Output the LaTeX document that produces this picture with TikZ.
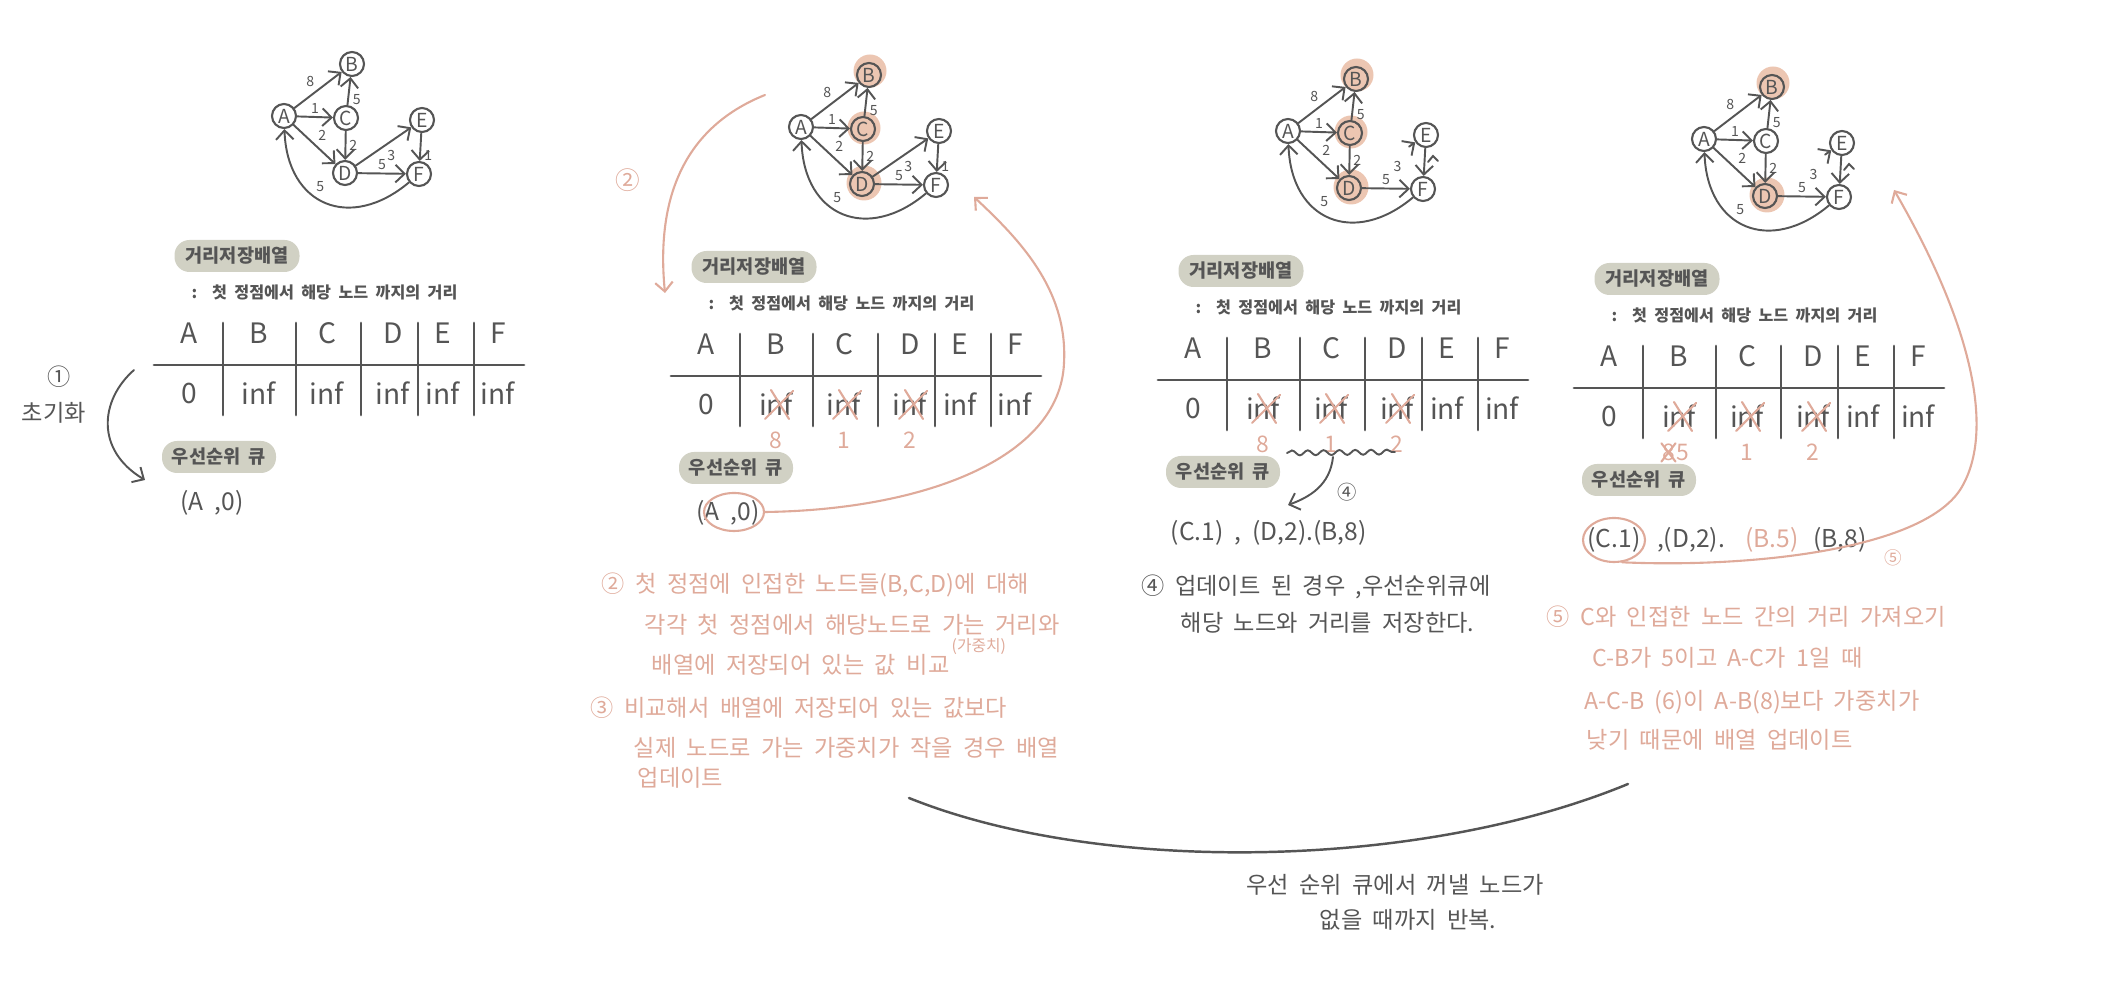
\documentclass[tikz,border=0pt]{standalone}
\usepackage{fontspec}
\setmainfont{Noto Sans CJK KR}[WordSpace=2]
\usetikzlibrary{arrows.meta,positioning,calc,shapes.geometric,decorations.pathmorphing}
\definecolor{ink}{HTML}{555555}
\definecolor{blush}{HTML}{DFAA9A}
\definecolor{peach}{HTML}{ECC6B2}
\definecolor{sage}{HTML}{D1D1C4}

\begin{document}
\begin{tikzpicture}[>={Straight Barb[length=2.6pt,width=5pt]},auto,line cap=round,
    main node/.style={circle,draw=ink,line width=0.6pt,minimum size=0.24cm,inner sep=0pt,text=ink,font=\fontsize{5.5}{6}\selectfont},
    weight/.style={text=ink,inner sep=0.8pt,font=\fontsize{4}{4}\selectfont},
    link/.style={draw=ink,line width=0.55pt,->},
    pill/.style={fill=sage,rounded corners=0.15cm,text=ink,inner sep=0pt,minimum height=0.32cm,font=\fontsize{5.3}{6}\selectfont\bfseries},
    cell/.style={text=ink,font=\fontsize{8}{9}\selectfont},
    rule/.style={draw=ink,line width=0.8pt},
    hint/.style={text=ink,anchor=west,inner sep=0pt,font=\fontsize{4.6}{5}\selectfont\bfseries},
    queue/.style={text=ink,inner sep=0pt,font=\fontsize{7}{8}\selectfont},
    red num/.style={text=blush,inner sep=0pt,font=\fontsize{6.5}{7}\selectfont},
    red note/.style={text=blush,anchor=west,inner sep=0pt,font=\fontsize{6.6}{7}\selectfont},
    grey note/.style={text=ink,anchor=west,inner sep=0pt,font=\fontsize{6.6}{7}\selectfont},
    red line/.style={draw=blush,line width=0.6pt},
    ring/.style={ellipse,draw=blush,line width=0.6pt,inner sep=0pt}]
\useasboundingbox (0,0) rectangle (21.01,-10);

\foreach \p/\ox/\oy in {1/1.54/-3.65,2/6.71/-3.76,3/11.58/-3.80,4/15.74/-3.88}{
  \begin{scope}[shift={(\ox,\oy)}]
    \ifnum\p>1
      \fill[peach] (1.99,3.05) circle (0.165) (1.93,1.93) circle (0.175);
      \ifnum\p<4 \fill[peach] (1.93,2.48) circle (0.165); \fi
    \fi
    \node[main node] (A\p) at (1.30,2.49) {A};
    \node[main node] (B\p) at (1.98,3.01) {B};
    \node[main node] (C\p) at (1.92,2.47) {C};
    \node[main node] (E\p) at (2.68,2.45) {E};
    \node[main node] (D\p) at (1.91,1.92) {D};
    \node[main node] (F\p) at (2.65,1.91) {F};
    \path[every edge/.style={link},every node/.style={weight}]
      (A\p) edge node {8} (B\p)
      (A\p) edge node {1} (C\p)
      (C\p) edge node[swap] {5} (B\p)
      (A\p) edge node {2} (D\p)
      (C\p) edge node {2} (D\p)
      (D\p) edge node {5} (F\p)
      (F\p) edge[out=220,in=-88,looseness=1.45] node[swap,pos=0.6] {5} (A\p);
    \ifnum\p<3
      \path[every edge/.style={link},every node/.style={weight}]
        (D\p) edge node[swap] {3} (E\p)
        (E\p) edge node {1} (F\p);
    \else
      \draw[link] ($(D\p)!0.78!(E\p)$) -- (E\p);
      \node[weight] at ($(D\p)!0.5!(E\p)+(0.1,-0.05)$) {3};
      \draw[link] (E\p) -- (F\p);
      \draw[draw=ink,line width=0.55pt] ($(E\p)+(0.02,-0.27)$) -- ++(0.05,0.06) -- ++(0.05,-0.05);
    \fi

    \draw[rule] (0,0) -- (3.70,0);
    \foreach \vx in {0.69,1.42,2.07,2.64,3.20}
      \draw[rule] (\vx,0.42) -- (\vx,-0.50);
    \foreach \col/\cx/\val in {A/0.35/0,B/1.05/inf,C/1.73/inf,D/2.39/inf,E/2.89/inf,F/3.44/inf}{
      \node[cell] (h\col\p) at (\cx,0.32) {\col};
      \node[cell] (v\col\p) at (\cx,-0.28) {\val};
    }
    \node[pill,minimum width=1.25cm] (dist\p) at (0.83,1.09) {거리저장배열};
    \node[hint] (sub\p) at (0.37,0.73) {:\ \ 첫 정점에서 해당 노드 까지의 거리};
    \node[pill,minimum width=1.14cm] (pq\p) at (0.65,-0.92) {우선순위 큐};
  \end{scope}
}

\foreach \p in {2,3,4}
  \foreach \col in {B,C,D}
    \draw[red line] ([shift={(-0.11,-0.15)}]v\col\p.center) -- ([shift={(0.17,0.13)}]v\col\p.center)
                    ([shift={(-0.05,0.14)}]v\col\p.center) -- ([shift={(0.13,-0.15)}]v\col\p.center);
\foreach \p in {2,3}{
  \node[red num,below=1pt of vB\p] {8};
  \node[red num,below=1pt of vC\p] {1};
  \node[red num,below=1pt of vD\p] {2};
}

\node[queue] (q1) at (2.12,-5.03) {(A ,0)};
\node[grey note,anchor=center] (step1) at (0.59,-3.77) {①};
\node[grey note,anchor=center] (init) at (0.54,-4.13) {초기화};
\coordinate (i1) at (1.34,-3.70);
\coordinate (i2) at (1.45,-4.80);
\draw[link] (i1) .. controls (1.0,-4.0) and (0.95,-4.5) .. (i2);

\node[queue] (q2) at (7.28,-5.13) {(A ,0)};
\node[ring,minimum width=0.6cm,minimum height=0.38cm] (ring2) at (7.34,-5.12) {};
\node[red note,anchor=center,font=\fontsize{7}{8}\selectfont] (two) at (6.28,-1.80) {②};
\coordinate (s2) at (7.65,-0.95);
\coordinate (t2) at (6.65,-2.93);
\draw[red line,->] (s2) .. controls (6.9,-1.25) and (6.55,-1.9) .. (t2);
\coordinate (t2b) at (9.74,-1.97);
\draw[red line,->] (ring2.east) .. controls (9.2,-5.1) and (10.6,-4.6) .. (10.64,-3.63)
                   .. controls (10.68,-2.9) and (10.2,-2.4) .. (t2b);
\node[red note] at (6.01,-5.85) {② 첫 정점에 인접한 노드들(B,C,D)에 대해};
\node[red note] at (6.44,-6.25) {각각 첫 정점에서 해당노드로 가는 거리와};
\node[red note,font=\fontsize{4.5}{5}\selectfont] at (9.51,-6.47) {(가중치)};
\node[red note] at (6.51,-6.65) {배열에 저장되어 있는 값 비교};
\node[red note] at (5.90,-7.08) {③ 비교해서 배열에 저장되어 있는 값보다};
\node[red note] at (6.33,-7.48) {실제 노드로 가는 가중치가 작을 경우 배열};
\node[red note] at (6.37,-7.78) {업데이트};

\coordinate (w1) at (12.87,-4.53);
\coordinate (w2) at (13.95,-4.52);
\draw[draw=ink,line width=0.55pt,decorate,decoration={snake,amplitude=0.7pt,segment length=4.5pt}] (w1) -- (w2);
\coordinate (w3) at (13.33,-4.57);
\coordinate (w4) at (12.88,-5.05);
\draw[link] (w3) .. controls (13.3,-4.85) and (13.1,-4.97) .. (w4);
\node[grey note,anchor=center,font=\fontsize{5.5}{6}\selectfont] at (13.47,-4.92) {④};
\node[queue,anchor=west] (q3) at (11.70,-5.33) {(C.1) , (D,2).(B,8)};
\node[grey note] at (11.41,-5.87) {④ 업데이트 된 경우 ,우선순위큐에};
\node[grey note] at (11.80,-6.23) {해당 노드와 거리를 저장한다.};

\node[red num,below=1pt of vB4,xshift=-3pt] (old4) {8};
\draw[red line] (old4.south west) -- (old4.north east) (old4.north west) -- (old4.south east);
\node[red num,right=0pt of old4] {5};
\node[red num,below=1pt of vC4] {1};
\node[red num,below=1pt of vD4] {2};
\node[queue] (q4a) at (16.14,-5.40) {(C.1)};
\node[queue] (q4b) at (16.91,-5.40) {,(D,2).};
\node[queue,text=blush] (q4c) at (17.72,-5.40) {(B.5)};
\node[queue] (q4d) at (18.40,-5.40) {(B,8)};
\node[ring,minimum width=0.62cm,minimum height=0.44cm] (ring4) at (q4a) {};
\coordinate (t4) at (18.94,-1.90);
\draw[red line,->] (ring4.-70) .. controls (17.5,-5.68) and (19.2,-5.5) .. (19.60,-4.90)
                   .. controls (19.95,-4.35) and (19.75,-3.3) .. (t4);
\node[red note,anchor=center,font=\fontsize{5}{6}\selectfont] at (18.93,-5.58) {⑤};
\node[red note] at (15.46,-6.17) {⑤ C와 인접한 노드 간의 거리 가져오기};
\node[red note] at (15.92,-6.58) {C-B가 5이고 A-C가 1일 때};
\node[red note] at (15.84,-7.02) {A-C-B (6)이 A-B(8)보다 가중치가};
\node[red note] at (15.86,-7.40) {낮기 때문에 배열 업데이트};

\coordinate (loop1) at (9.09,-7.98);
\coordinate (loop2) at (16.28,-7.84);
\draw[draw=ink,line width=0.7pt] (loop1) .. controls (11.0,-8.75) and (14.2,-8.7) .. (loop2);
\node[grey note,anchor=center] (rep1) at (13.95,-8.85) {우선 순위 큐에서 꺼낼 노드가};
\node[grey note,anchor=center] (rep2) at (14.08,-9.20) {없을 때까지 반복.};
\end{tikzpicture}
\end{document}
